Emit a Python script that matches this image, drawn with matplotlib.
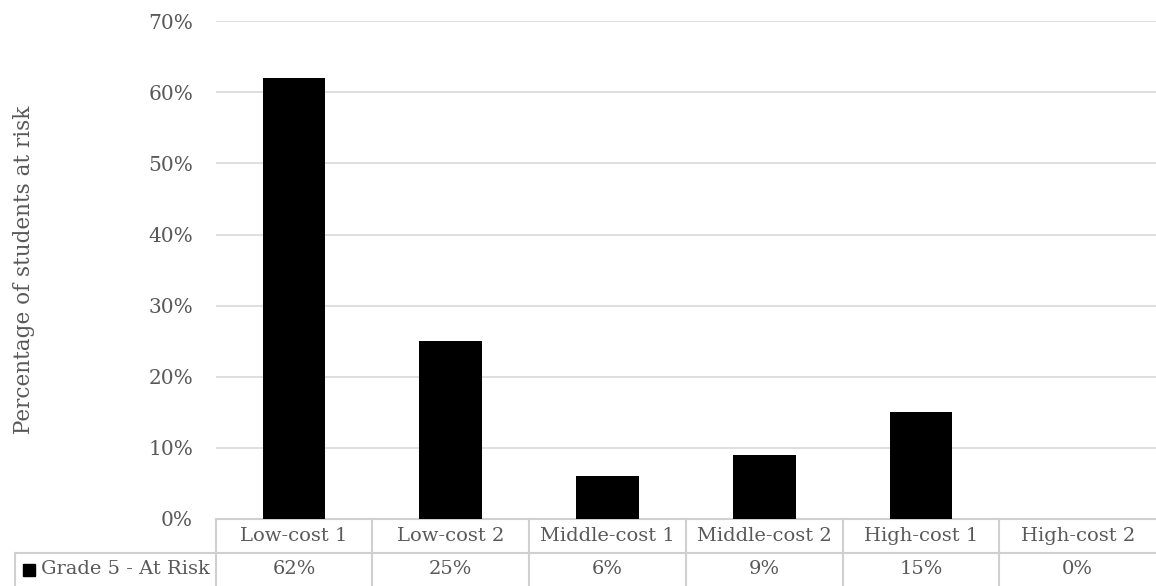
import matplotlib.pyplot as plt
from matplotlib.ticker import PercentFormatter

# datos
categorias = ["Low-cost 1", "Low-cost 2", "Middle-cost 1", "Middle-cost 2", "High-cost 1", "High-cost 2"]
at_risk = [62, 25, 6, 9, 15, 0]
serie = "Grade 5 - At Risk"

gris_texto = "#595959"
gris_linea = "#d9d9d9"

plt.rcParams["font.family"] = ["DejaVu Serif"]

W, H = 1156, 586
fig = plt.figure(figsize=(W / 100, H / 100), dpi=100)

# area de la grafica en pixeles
x0, x1 = 215.7, 1156
y_top, y_cero = 21.2, 519
ax = fig.add_axes([x0 / W, (H - y_cero) / H, (x1 - x0) / W, (y_cero - y_top) / H])

x = range(len(categorias))
ax.bar(x, at_risk, width=0.4, color="black", zorder=3)

ax.set_xlim(-0.5, len(categorias) - 0.5)
ax.set_ylim(0, 70)
ax.set_yticks(range(0, 71, 10))
ax.yaxis.set_major_formatter(PercentFormatter(decimals=0))
ax.tick_params(axis="y", length=0, pad=16.3, labelcolor=gris_texto, labelsize=14.5)
ax.set_xticks([])
ax.grid(axis="y", color=gris_linea, linewidth=1.2, zorder=0)
for s in ax.spines.values():
    s.set_visible(False)

# titulo del eje y
fig.text(24 / W, 1 - 270 / H, "Percentage of students at risk", rotation=90,
         ha="center", va="center", color=gris_texto, fontsize=15.5)

# tabla de datos debajo
ancho_col = (x1 - x0) / len(categorias)
alto_ax = y_cero - y_top
fila1 = -(553 - y_cero) / alto_ax
fila2 = -(586 - y_cero) / alto_ax
x_izq = -0.5 - (x0 - 15) / ancho_col
tr = ax.get_xaxis_transform()
kw = dict(color="#d0d0d0", linewidth=1.5, transform=tr, clip_on=False)

ax.plot([-0.5, len(categorias) - 0.5], [0, 0], **kw)
ax.plot([x_izq, len(categorias) - 0.5], [fila1, fila1], **kw)
ax.plot([x_izq, x_izq], [fila1, fila2], **kw)
for i in range(len(categorias)):
    ax.plot([i - 0.5, i - 0.5], [0, fila2], **kw)

for i, (c, v) in enumerate(zip(categorias, at_risk)):
    ax.text(i, fila1 / 2, c, transform=tr, ha="center", va="center",
            color=gris_texto, fontsize=14)
    ax.text(i, (fila1 + fila2) / 2, f"{v}%", transform=tr, ha="center", va="center",
            color=gris_texto, fontsize=14)

# etiqueta de la serie
x_marca = -0.5 - (x0 - 29) / ancho_col
x_txt = -0.5 - (x0 - 41) / ancho_col
ax.plot([x_marca], [(fila1 + fila2) / 2], marker="s", markersize=9, color="black",
        transform=tr, clip_on=False)
ax.text(x_txt, (fila1 + fila2) / 2, serie, transform=tr, ha="left", va="center",
        color=gris_texto, fontsize=14)

plt.savefig("out.png", dpi=100)
plt.close()
